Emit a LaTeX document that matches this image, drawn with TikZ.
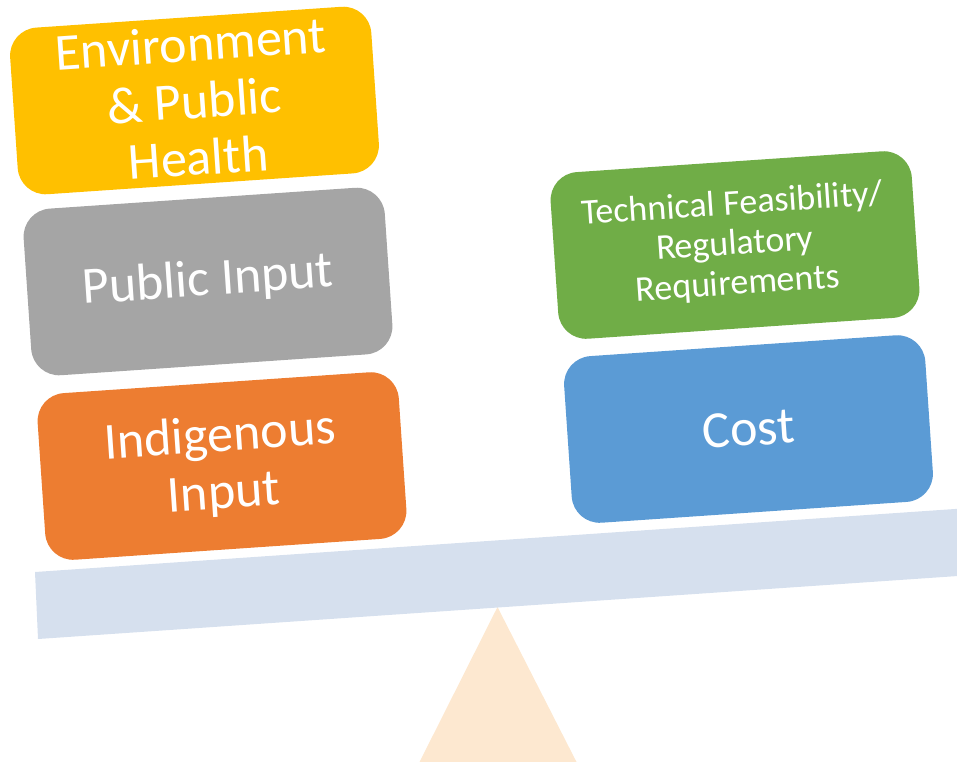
\documentclass[tikz,border=0pt]{standalone}
\usepackage{fontspec}
\setmainfont{Carlito}
\definecolor{cYellow}{HTML}{FFC000}
\definecolor{cGray}{HTML}{A5A5A5}
\definecolor{cOrange}{HTML}{ED7D31}
\definecolor{cGreen}{HTML}{70AD47}
\definecolor{cBlue}{HTML}{5B9BD5}
\definecolor{cBeam}{HTML}{D6E0EE}
\definecolor{cFulcrum}{HTML}{FDE8D0}
\begin{document}
\begin{tikzpicture}[x=1pt,y=-1pt,
  block/.style={rounded corners=28pt, rotate=3.9, minimum width=362pt,
    minimum height=167pt, inner sep=0pt, text=white, align=center,
    font=\fontsize{52}{57}\selectfont},
  smalltext/.style={font=\fontsize{36}{40}\selectfont},
  beam/.style={fill=cBeam},
  fulcrum/.style={fill=cFulcrum}]
\useasboundingbox (0,0) rectangle (957,761);
\clip (0,0) rectangle (957,761);

% fulcrum under the lever
\coordinate (apex) at (497.5,607);
\coordinate (footL) at (415.5,770);
\coordinate (footR) at (580.6,770);
\fill[fulcrum] (apex) -- (footL) -- (footR) -- cycle;

% tilted lever
\coordinate (bTL) at (35,572);
\coordinate (bTR) at (1000,505.9);
\coordinate (bBR) at (1003,572.9);
\coordinate (bBL) at (38,639);
\fill[beam] (bTL) -- (bTR) -- (bBR) -- (bBL) -- cycle;

% weights on the left pan
\node[block, fill=cYellow] (env) at (194.5,100.5) {Environment\\ \& Public\\ Health};
\node[block, fill=cGray] (pub) at (208,281.5) {Public Input};
\node[block, fill=cOrange] (ind) at (222,466) {Indigenous\\ Input};

% weights on the right pan
\node[block, fill=cGreen, smalltext] (tech) at (735,245) {Technical Feasibility/\\ Regulatory\\ Requirements};
\node[block, fill=cBlue] (cost) at (748.5,429) {Cost};
\end{tikzpicture}
\end{document}
